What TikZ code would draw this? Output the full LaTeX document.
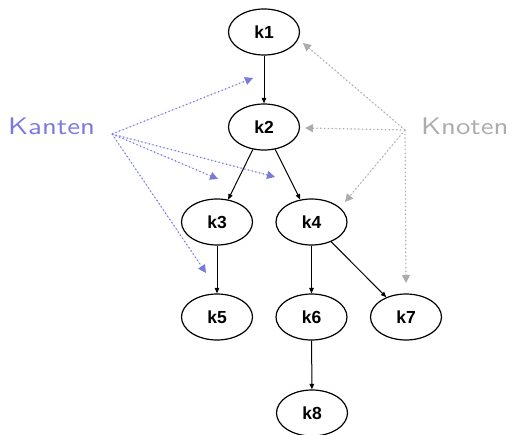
\documentclass[tikz,border=0pt]{standalone}
\usepackage{fontspec}
\newfontfamily\nodefont{Liberation Sans}
\newfontfamily\labfont{lmsans10-regular.otf}
\usetikzlibrary{shapes.geometric,arrows.meta}
\definecolor{kantenblue}{RGB}{122,122,220}
\definecolor{knotengray}{RGB}{172,172,172}
\begin{document}
\begin{tikzpicture}[x=1pt,y=-1pt,
  knoten/.style={ellipse,draw,line width=1.2pt,minimum width=71pt,minimum height=46pt,inner sep=0pt,font=\nodefont\bfseries\fontsize{17.5}{20}\selectfont},
  kante/.style={line width=1pt,-{Triangle[length=5.5pt,width=4.5pt]}},
  hinweis/.style={dotted,line width=1.2pt,dash pattern=on 1.2pt off 2.6pt,-{Triangle[length=8pt,width=8pt]}},
  label/.style={inner sep=0pt,anchor=base west,font=\labfont\fontsize{24}{28}\selectfont}]
\useasboundingbox (0,0) rectangle (514,434);
\node[knoten] (k1) at (264,32) {k1};
\node[knoten] (k2) at (264,127) {k2};
\node[knoten] (k3) at (217,222) {k3};
\node[knoten] (k4) at (311.5,222) {k4};
\node[knoten] (k5) at (217,317) {k5};
\node[knoten] (k6) at (311.5,317) {k6};
\node[knoten] (k7) at (406,317) {k7};
\node[knoten] (k8) at (312,413) {k8};
\draw[kante] (k1) -- (k2);
\draw[kante] (k2) -- (k3);
\draw[kante] (k2) -- (k4);
\draw[kante] (k3) -- (k5);
\draw[kante] (k4) -- (k6);
\draw[kante] (k4) -- (k7);
\draw[kante] (k6) -- (k8);
\node[label,text=kantenblue] (kanten) at (8,134) {\scalebox{1.2}[1]{Kanten}};
\node[label,text=knotengray] (knoten) at (421,134) {\scalebox{1.2}[1]{Knoten}};
\coordinate (ka) at (112,134);
\coordinate (kn) at (405,130);
\coordinate (ta1) at (253,78);
\coordinate (ta2) at (218,179);
\coordinate (ta3) at (275,177);
\coordinate (ta4) at (206,273);
\coordinate (tn1) at (303,43);
\coordinate (tn2) at (305,128);
\coordinate (tn3) at (345,202);
\coordinate (tn4) at (406,283);
\foreach \t in {ta1,ta2,ta3,ta4}
  \draw[hinweis,draw=kantenblue,fill=kantenblue] (ka) -- (\t);
\foreach \t in {tn1,tn2,tn3,tn4}
  \draw[hinweis,draw=knotengray,fill=knotengray] (kn) -- (\t);
\end{tikzpicture}
\end{document}
